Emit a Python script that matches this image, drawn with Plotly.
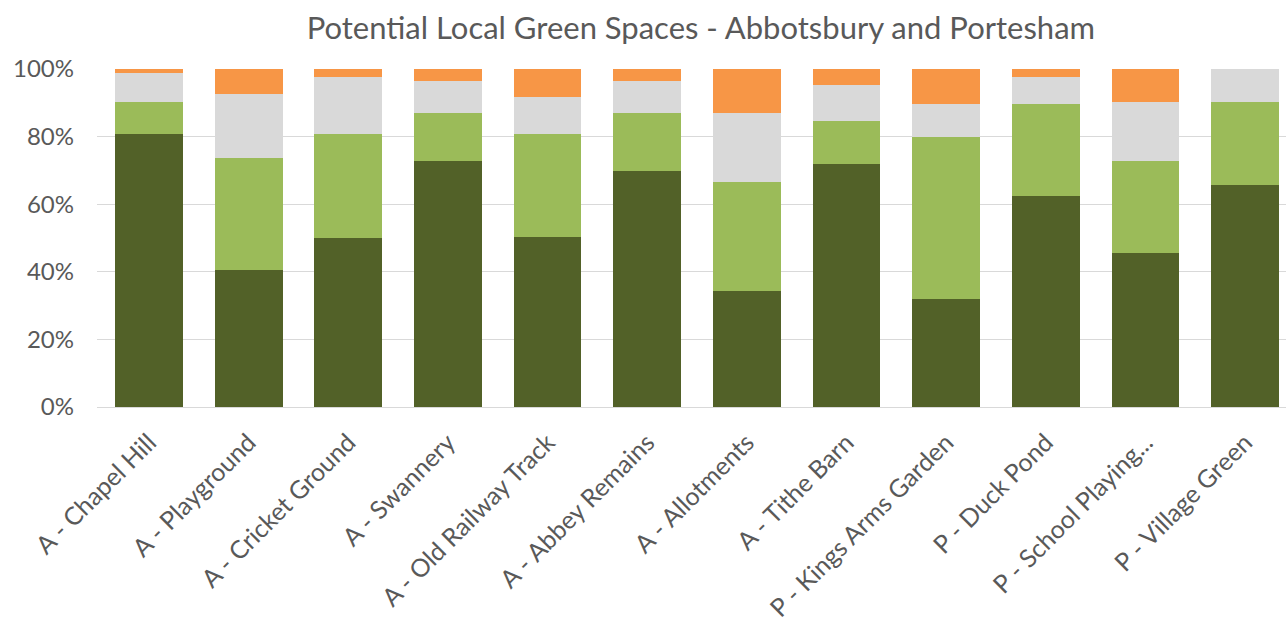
import plotly.graph_objects as go

categories = ["A - Chapel Hill", "A - Playground", "A - Cricket Ground", "A - Swannery",
              "A - Old Railway Track", "A - Abbey Remains", "A - Allotments", "A - Tithe Barn",
              "P - Kings Arms Garden", "P - Duck Pond", "P - School Playing...", "P - Village Green"]

dark_green = [80.8, 40.5, 50.0, 72.8, 50.3, 69.9, 34.3, 71.8, 31.9, 62.4, 45.7, 65.6]
light_green = [9.5, 33.2, 30.8, 14.3, 30.5, 17.2, 32.2, 12.8, 47.9, 27.1, 27.1, 24.7]
grey = [8.4, 18.9, 16.7, 9.4, 11.0, 9.4, 20.6, 10.6, 9.8, 8.0, 17.5, 9.7]
orange = [1.3, 7.4, 2.5, 3.5, 8.2, 3.5, 12.9, 4.8, 10.4, 2.5, 9.7, 0.0]

y_ticks = [0, 20, 40, 60, 80, 100]
y_tick_labels = ["0%", "20%", "40%", "60%", "80%", "100%"]

series = [("Series 1", dark_green, "#526128"),
          ("Series 2", light_green, "#9bbb59"),
          ("Series 3", grey, "#d9d9d9"),
          ("Series 4", orange, "#f79646")]

fig = go.Figure()
for name, vals, col in series:
    fig.add_trace(go.Bar(x=list(range(len(categories))), y=vals, name=name,
                         marker=dict(color=col, line=dict(width=0))))

font_family = "Lato, 'Open Sans', sans-serif"
fig.update_layout(
    barmode="stack",
    bargap=0.32,
    width=1286, height=621,
    margin=dict(l=97, r=0, t=69, b=214),
    paper_bgcolor="white", plot_bgcolor="white",
    showlegend=False,
    title=dict(text="Potential Local Green Spaces - Abbotsbury and Portesham",
               x=0.545, xanchor="center", y=0.955, yanchor="middle",
               font=dict(family=font_family, size=31, color="#595959")),
    font=dict(family=font_family, color="#595959"),
)
fig.update_xaxes(
    tickmode="array", tickvals=list(range(len(categories))), ticktext=categories,
    range=[-0.522, 11.41], tickangle=-45,
    tickfont=dict(size=25, color="#595959"),
    showgrid=False, showline=True, linecolor="#d9d9d9", linewidth=1,
    ticks="", ticklabelstandoff=10,
)
fig.update_yaxes(
    range=[0, 100], tickmode="array", tickvals=y_ticks, ticktext=y_tick_labels,
    tickfont=dict(size=24, color="#595959"),
    showgrid=True, gridcolor="#d9d9d9", gridwidth=1,
    zeroline=False, showline=False, ticks="", ticklabelstandoff=22,
)

fig.write_html("out.html")
